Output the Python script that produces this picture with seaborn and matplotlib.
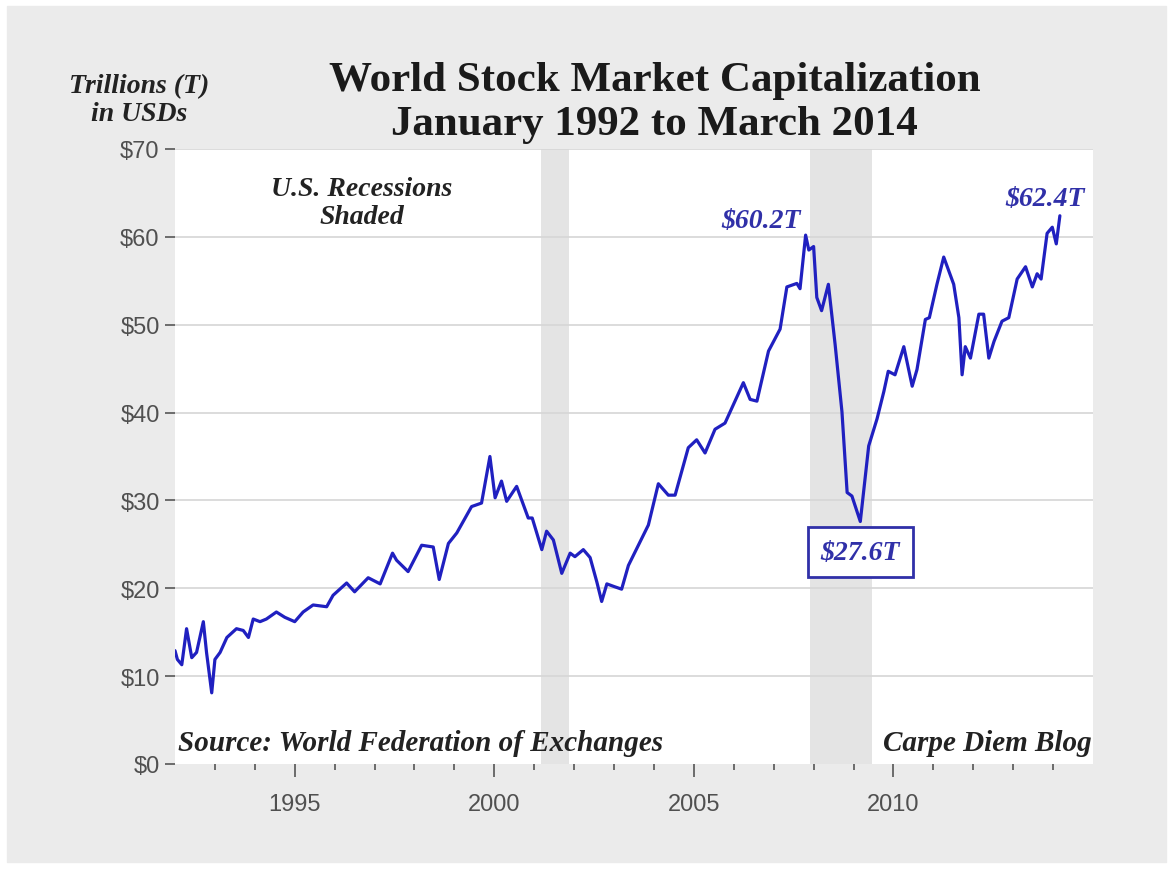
import matplotlib
matplotlib.use("Agg")
import matplotlib.pyplot as plt
import matplotlib.patches as mpatches
import pandas as pd
import seaborn as sns

# month positions as decimal years, values in trillions USD
years = [1992.00, 1992.06, 1992.17, 1992.29, 1992.42, 1992.54, 1992.71, 1992.79, 1992.92,
         1993.00, 1993.13, 1993.30, 1993.54, 1993.71, 1993.84, 1993.96, 1994.13, 1994.29,
         1994.54, 1994.75, 1995.00, 1995.21, 1995.46, 1995.80, 1995.96, 1996.30, 1996.50,
         1996.84, 1997.14, 1997.45, 1997.55, 1997.84, 1998.18, 1998.47, 1998.62, 1998.85,
         1999.06, 1999.27, 1999.43, 1999.68, 1999.89, 2000.02, 2000.18, 2000.31, 2000.56,
         2000.85, 2000.95, 2001.19, 2001.31, 2001.48, 2001.69, 2001.90, 2002.02, 2002.23,
         2002.40, 2002.57, 2002.69, 2002.82, 2003.00, 2003.19, 2003.36, 2003.61, 2003.86,
         2004.11, 2004.36, 2004.53, 2004.86, 2005.07, 2005.28, 2005.53, 2005.78, 2005.99,
         2006.24, 2006.41, 2006.58, 2006.87, 2007.16, 2007.33, 2007.58, 2007.66, 2007.80,
         2007.88, 2008.00, 2008.08, 2008.20, 2008.37, 2008.54, 2008.71, 2008.84, 2008.96,
         2009.17, 2009.38, 2009.59, 2009.76, 2009.87, 2010.04, 2010.26, 2010.47, 2010.59,
         2010.80, 2010.90, 2011.09, 2011.26, 2011.51, 2011.64, 2011.72, 2011.80, 2011.93,
         2012.14, 2012.26, 2012.39, 2012.52, 2012.72, 2012.89, 2013.10, 2013.31, 2013.48,
         2013.60, 2013.70, 2013.85, 2013.98, 2014.08, 2014.17]
cap = [12.9, 11.9, 11.3, 15.4, 12.1, 12.7, 16.2, 12.7, 8.1,
       11.9, 12.7, 14.4, 15.4, 15.2, 14.4, 16.5, 16.2, 16.5,
       17.3, 16.7, 16.2, 17.3, 18.1, 17.9, 19.2, 20.6, 19.6,
       21.2, 20.5, 24.0, 23.2, 21.9, 24.9, 24.7, 21.0, 25.1,
       26.3, 28.0, 29.3, 29.7, 35.0, 30.3, 32.2, 29.9, 31.6,
       28.0, 28.0, 24.4, 26.5, 25.5, 21.7, 24.0, 23.6, 24.4,
       23.5, 20.7, 18.5, 20.5, 20.2, 19.9, 22.6, 24.9, 27.2,
       31.9, 30.6, 30.6, 36.0, 36.9, 35.4, 38.1, 38.8, 40.9,
       43.4, 41.5, 41.3, 47.0, 49.5, 54.3, 54.7, 54.1, 60.2,
       58.5, 58.9, 53.1, 51.6, 54.6, 47.7, 40.1, 30.9, 30.5,
       27.6, 36.2, 39.3, 42.4, 44.7, 44.3, 47.5, 43.0, 44.9,
       50.6, 50.8, 54.6, 57.7, 54.6, 50.8, 44.3, 47.5, 46.2,
       51.2, 51.2, 46.2, 48.1, 50.4, 50.8, 55.2, 56.6, 54.3,
       55.8, 55.2, 60.4, 61.1, 59.2, 62.4]

# US recessions (start, end)
rec_start = [2001.17, 2007.92]
rec_end = [2001.88, 2009.46]

yticks = [0, 10, 20, 30, 40, 50, 60, 70]
ytick_labels = ["$" + str(v) for v in yticks]
xticks = [1995, 2000, 2005, 2010]

df = pd.DataFrame({"year": years, "cap": cap})

sns.set_style("white")
plt.rcParams["font.family"] = ["Liberation Sans", "DejaVu Sans"]

bg = "#ebebeb"
fig = plt.figure(figsize=(11.73, 8.70), dpi=100, facecolor="white")
fig.patches.append(mpatches.Rectangle((7 / 1173, 7 / 870), 1159 / 1173, 856 / 870,
                                      transform=fig.transFigure, color=bg, zorder=-10))
ax = fig.add_axes([175 / 1173, 1 - 765 / 870, 918 / 1173, 615 / 870])
ax.set_facecolor("white")

for s, e in zip(rec_start, rec_end):
    ax.axvspan(s, e, color="#e4e4e4", lw=0, zorder=0)

for v in yticks[1:]:
    ax.axhline(v, color="#d6d6d6", lw=1.2, zorder=1)

sns.lineplot(data=df, x="year", y="cap", ax=ax, color="#2020c0", lw=2.3, zorder=3)

ax.set_xlim(1992, 2015)
ax.set_ylim(0, 70)
ax.set_yticks(yticks)
ax.set_yticklabels(ytick_labels)
ax.set_xticks(xticks)
ax.set_xticks(range(1993, 2015), minor=True)
ax.set_xlabel("")
ax.set_ylabel("")
for sp in ax.spines.values():
    sp.set_visible(False)
ax.tick_params(axis="y", which="major", left=True, length=7, width=1.2, color="#555555",
               labelsize=17, labelcolor="#505050", pad=4)
ax.tick_params(axis="x", which="major", bottom=True, length=9, width=1.2, color="#555555",
               labelsize=17, labelcolor="#505050", pad=12)
ax.tick_params(axis="x", which="minor", bottom=True, length=4, width=1.2, color="#555555")

serif = ["Liberation Serif", "DejaVu Serif"]
fig.text(0.558, 0.882, "World Stock Market Capitalization\nJanuary 1992 to March 2014",
         ha="center", va="center", fontsize=31, fontweight="bold", family=serif,
         color="#1a1a1a", linespacing=1.2)
fig.text(0.119, 0.884, "Trillions (T)\nin USDs", ha="center", va="center", fontsize=20,
         fontweight="bold", style="italic", family=serif, color="#222222", linespacing=1.15)

ax.text(1996.68, 63.9, "U.S. Recessions\nShaded", ha="center", va="center", fontsize=20,
        fontweight="bold", style="italic", family=serif, color="#222222", linespacing=1.2)
ax.text(1992.08, 2.5, "Source: World Federation of Exchanges", ha="left", va="center",
        fontsize=21, fontweight="bold", style="italic", family=serif, color="#222222")
ax.text(2014.98, 2.5, "Carpe Diem Blog", ha="right", va="center", fontsize=21,
        fontweight="bold", style="italic", family=serif, color="#222222")

blue = "#3030a8"
ax.text(2006.69, 61.9, "$60.2T", ha="center", va="center", fontsize=20,
        fontweight="bold", style="italic", family=serif, color=blue, zorder=4)
ax.text(2013.79, 64.4, "$62.4T", ha="center", va="center", fontsize=20,
        fontweight="bold", style="italic", family=serif, color=blue, zorder=4)
ax.text(2009.17, 24.1, "$27.6T", ha="center", va="center", fontsize=20,
        fontweight="bold", style="italic", family=serif, color=blue, zorder=4,
        bbox=dict(boxstyle="square,pad=0.45", fc="white", ec=blue, lw=2))

fig.savefig("out.png", dpi=100, facecolor=fig.get_facecolor())
